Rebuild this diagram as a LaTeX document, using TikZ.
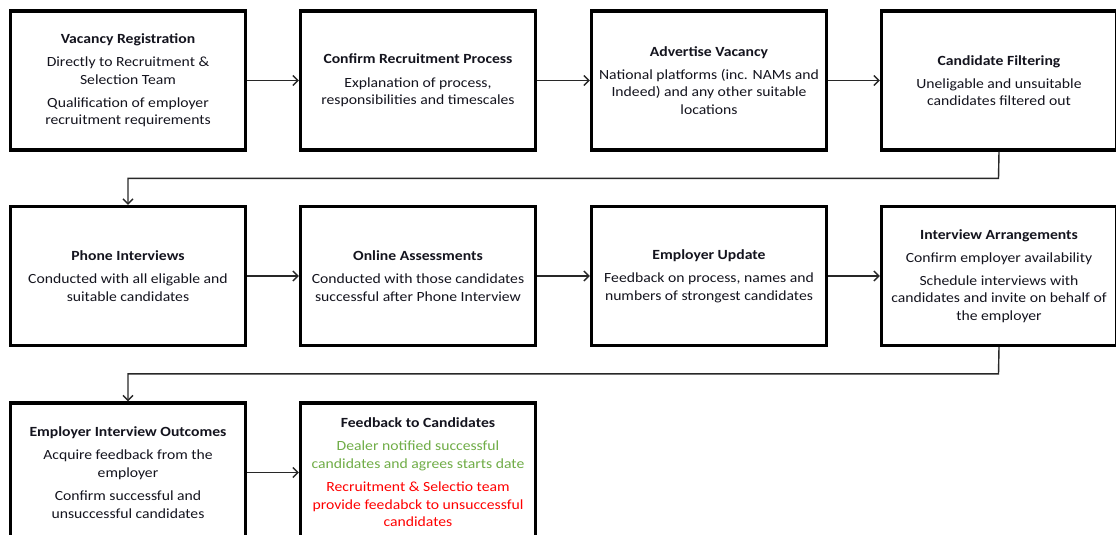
\documentclass[tikz,border=0pt]{standalone}
\usepackage{fontspec}
\setmainfont{Carlito}[FakeStretch=1.12]
\usetikzlibrary{arrows.meta}
\definecolor{txt}{RGB}{20,20,30}
\definecolor{okgreen}{RGB}{112,173,71}
\definecolor{nored}{RGB}{255,0,0}
\definecolor{lin}{RGB}{40,40,40}
\begin{document}
\begin{tikzpicture}[x=1pt,y=-1pt,
  stepbox/.style={draw=black, line width=3.2pt, fill=white, minimum width=235pt, minimum height=139pt,
    align=center, inner sep=2pt, font=\fontsize{14}{17.6}\selectfont, text=txt},
  conn/.style={draw=lin, line width=1.4pt, -{Straight Barb[length=5pt,width=10pt]}}
]
\useasboundingbox (0,0) rectangle (1116,535);
\fill[white] (0,0) rectangle (1116,535);
\clip (0,0) rectangle (1116,535);

% row 1
\node[stepbox] (n1) at (128,80.5) {\textbf{Vacancy Registration}\\[5.5pt]
  Directly to Recruitment \&\\ Selection Team\\[5.5pt]
  Qualification of employer\\ recruitment requirements};
\node[stepbox] (n2) at (418,80.5) {\textbf{Confirm Recruitment Process}\\[5.5pt]
  Explanation of process,\\ responsibilities and timescales};
\node[stepbox] (n3) at (709,80.5) {\textbf{Advertise Vacancy}\\[5.5pt]
  National platforms (inc. NAMs and\\ Indeed) and any other suitable\\ locations};
\node[stepbox] (n4) at (999,80.5) {\textbf{Candidate Filtering}\\[5.5pt]
  Uneligable and unsuitable\\ candidates filtered out};

% row 2
\node[stepbox] (n5) at (128,276) {\textbf{Phone Interviews}\\[5.5pt]
  Conducted with all eligable and\\ suitable candidates};
\node[stepbox] (n6) at (418,276) {\textbf{Online Assessments}\\[5.5pt]
  Conducted with those candidates\\ successful after Phone Interview};
\node[stepbox] (n7) at (709,276) {\textbf{Employer Update}\\[5.5pt]
  Feedback on process, names and\\ numbers of strongest candidates};
\node[stepbox] (n8) at (999,276) {\textbf{Interview Arrangements}\\[5.5pt]
  Confirm employer availability\\[5.5pt]
  Schedule interviews with\\ candidates and invite on behalf of\\ the employer};

% row 3
\node[stepbox] (n9) at (128,472.5) {\textbf{Employer Interview Outcomes}\\[5.5pt]
  Acquire feedback from the\\ employer\\[5.5pt]
  Confirm successful and\\ unsuccessful candidates};
\node[stepbox] (n10) at (418,472.5) {\textbf{Feedback to Candidates}\\[5.5pt]
  \textcolor{okgreen}{Dealer notified successful}\\ \textcolor{okgreen}{candidates and agrees starts date}\\[5.5pt]
  \textcolor{nored}{Recruitment \& Selectio team}\\ \textcolor{nored}{provide feedabck to unsuccessful}\\ \textcolor{nored}{candidates}};

% connectors
\draw[conn] (n1) -- (n2);
\draw[conn] (n2) -- (n3);
\draw[conn] (n3) -- (n4);
\draw[conn] (n5) -- (n6);
\draw[conn] (n6) -- (n7);
\draw[conn] (n7) -- (n8);
\draw[conn] (n9) -- (n10);

\coordinate (m1) at (998.5,178.3);
\coordinate (m2) at (998.5,373.8);
\draw[conn] (n4.south) -- (m1) -| (n5.north);
\draw[conn] (n8.south) -- (m2) -| (n9.north);
\end{tikzpicture}
\end{document}
